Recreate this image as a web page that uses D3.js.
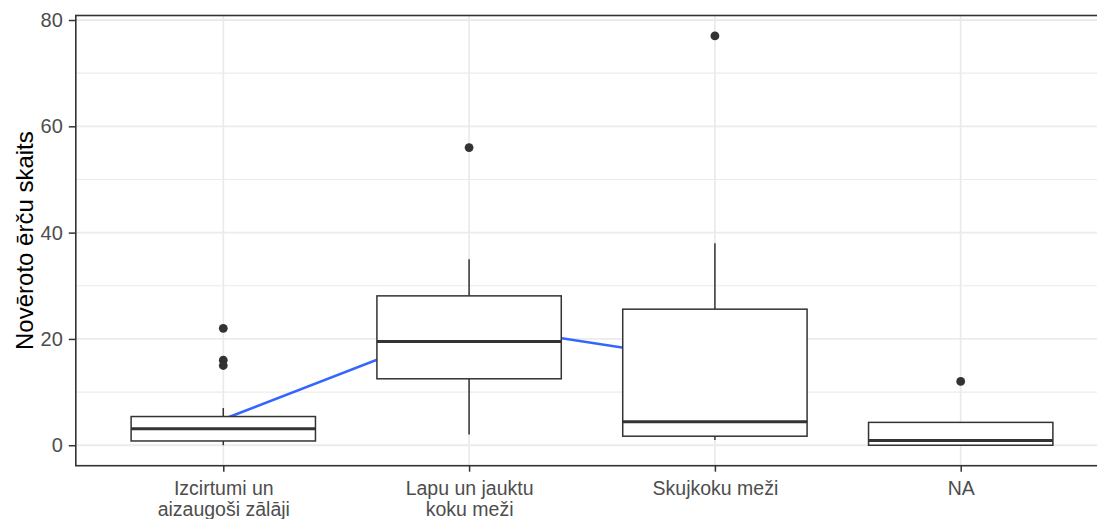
<!DOCTYPE html>
<html>
<head>
<meta charset="utf-8">
<script src="https://cdn.jsdelivr.net/npm/d3@7"></script>
<style>
  html, body { margin: 0; padding: 0; background: #fff; overflow: hidden; }
  svg { display: block; font-family: "Liberation Sans", Arial, sans-serif; }
</style>
</head>
<body>
<svg id="chart" width="1097" height="519"></svg>
<script>
// ---- data ----
const categories = ["Izcirtumi un\naizaugoši zālāji", "Lapu un jauktu\nkoku meži", "Skujkoku meži", "NA"];
const whiskerLow  = [0,   2,    1,    0];
const q1          = [0.8, 12.5, 1.7,  0];
const median      = [3.1, 19.5, 4.4,  0.9];
const q3          = [5.4, 28.1, 25.6, 4.3];
const whiskerHigh = [7,   35,   38,   4.3];
const outliers    = [[22, 16, 15], [56], [77], [12]];
const meanCats    = [categories[0], categories[1], categories[2]];
const meanValues  = [4.9, 22.8, 15.7];
const yTicks      = [0, 20, 40, 60, 80];
const yMinorTicks = [10, 30, 50, 70];
const yTitle      = "Novēroto ērču skaits";

// ---- layout ----
const svg = d3.select("#chart");
const panel = { left: 75.8, top: 15.5, right: 1108.2, bottom: 465.7 };

const x = d3.scalePoint().domain(categories).range([panel.left, panel.right]).padding(0.6);
const y = d3.scaleLinear().domain([-3.85, 80.85]).range([panel.bottom, panel.top]);
const boxW = x.step() * 0.75;

const g = svg.append("g");

g.append("rect").attr("x", panel.left).attr("y", panel.top)
  .attr("width", panel.right - panel.left).attr("height", panel.bottom - panel.top)
  .attr("fill", "#fff");

// grid
g.selectAll(".gminor").data(yMinorTicks).enter().append("line")
  .attr("x1", panel.left).attr("x2", panel.right)
  .attr("y1", d => y(d)).attr("y2", d => y(d))
  .attr("stroke", "#EBEBEB").attr("stroke-width", 1.1);
g.selectAll(".gmajor").data(yTicks).enter().append("line")
  .attr("x1", panel.left).attr("x2", panel.right)
  .attr("y1", d => y(d)).attr("y2", d => y(d))
  .attr("stroke", "#EBEBEB").attr("stroke-width", 1.8);
g.selectAll(".gx").data(categories).enter().append("line")
  .attr("x1", d => x(d)).attr("x2", d => x(d))
  .attr("y1", panel.top).attr("y2", panel.bottom)
  .attr("stroke", "#EBEBEB").attr("stroke-width", 1.8);

// mean line (behind boxes)
g.append("path")
  .datum(meanCats.map((c, i) => [c, meanValues[i]]))
  .attr("d", d3.line().x(d => x(d[0])).y(d => y(d[1])))
  .attr("fill", "none").attr("stroke", "#3366FF").attr("stroke-width", 2.6);

// boxplots
categories.forEach((c, i) => {
  const cx = x(c);
  const bg = g.append("g");
  bg.append("line").attr("x1", cx).attr("x2", cx)
    .attr("y1", y(q3[i])).attr("y2", y(whiskerHigh[i]))
    .attr("stroke", "#333").attr("stroke-width", 1.5);
  bg.append("line").attr("x1", cx).attr("x2", cx)
    .attr("y1", y(q1[i])).attr("y2", y(whiskerLow[i]))
    .attr("stroke", "#333").attr("stroke-width", 1.5);
  bg.append("rect").attr("x", cx - boxW / 2).attr("y", y(q3[i]))
    .attr("width", boxW).attr("height", y(q1[i]) - y(q3[i]))
    .attr("fill", "#fff").attr("stroke", "#333").attr("stroke-width", 1.5);
  bg.append("line").attr("x1", cx - boxW / 2).attr("x2", cx + boxW / 2)
    .attr("y1", y(median[i])).attr("y2", y(median[i]))
    .attr("stroke", "#333").attr("stroke-width", 3);
  bg.selectAll("circle").data(outliers[i]).enter().append("circle")
    .attr("cx", cx).attr("cy", d => y(d)).attr("r", 4.4)
    .attr("fill", "#333");
});

// panel border
g.append("rect").attr("x", panel.left).attr("y", panel.top)
  .attr("width", panel.right - panel.left).attr("height", panel.bottom - panel.top)
  .attr("fill", "none").attr("stroke", "#333").attr("stroke-width", 1.6);

// y axis
const yAxis = d3.axisLeft(y).tickValues(yTicks).tickSize(7).tickPadding(6);
const ya = svg.append("g").attr("transform", `translate(${panel.left},0)`).call(yAxis);
ya.select(".domain").remove();
ya.selectAll(".tick line").attr("stroke", "#333").attr("stroke-width", 1.5);
ya.selectAll(".tick text").attr("fill", "#4D4D4D").attr("font-size", 20)
  .attr("font-family", "'Liberation Sans', Arial, sans-serif");

// x axis
const xAxis = d3.axisBottom(x).tickSize(6).tickFormat("");
const xa = svg.append("g").attr("transform", `translate(0,${panel.bottom})`).call(xAxis);
xa.select(".domain").remove();
xa.selectAll(".tick line").attr("stroke", "#333").attr("stroke-width", 1.5);
xa.selectAll(".tick").each(function(d) {
  const t = d3.select(this).append("text")
    .attr("fill", "#4D4D4D").attr("font-size", 19.5).attr("text-anchor", "middle")
    .attr("font-family", "'Liberation Sans', Arial, sans-serif");
  d.split("\n").forEach((line, k) => {
    t.append("tspan").attr("x", 0).attr("y", 29.5 + k * 20.5).text(line);
  });
});

// y title
svg.append("text")
  .attr("transform", `translate(32.5,${(panel.top + panel.bottom) / 2}) rotate(-90)`)
  .attr("text-anchor", "middle").attr("font-size", 24).attr("fill", "#000")
  .attr("font-family", "'Liberation Sans', Arial, sans-serif")
  .text(yTitle);
</script>
</body>
</html>
